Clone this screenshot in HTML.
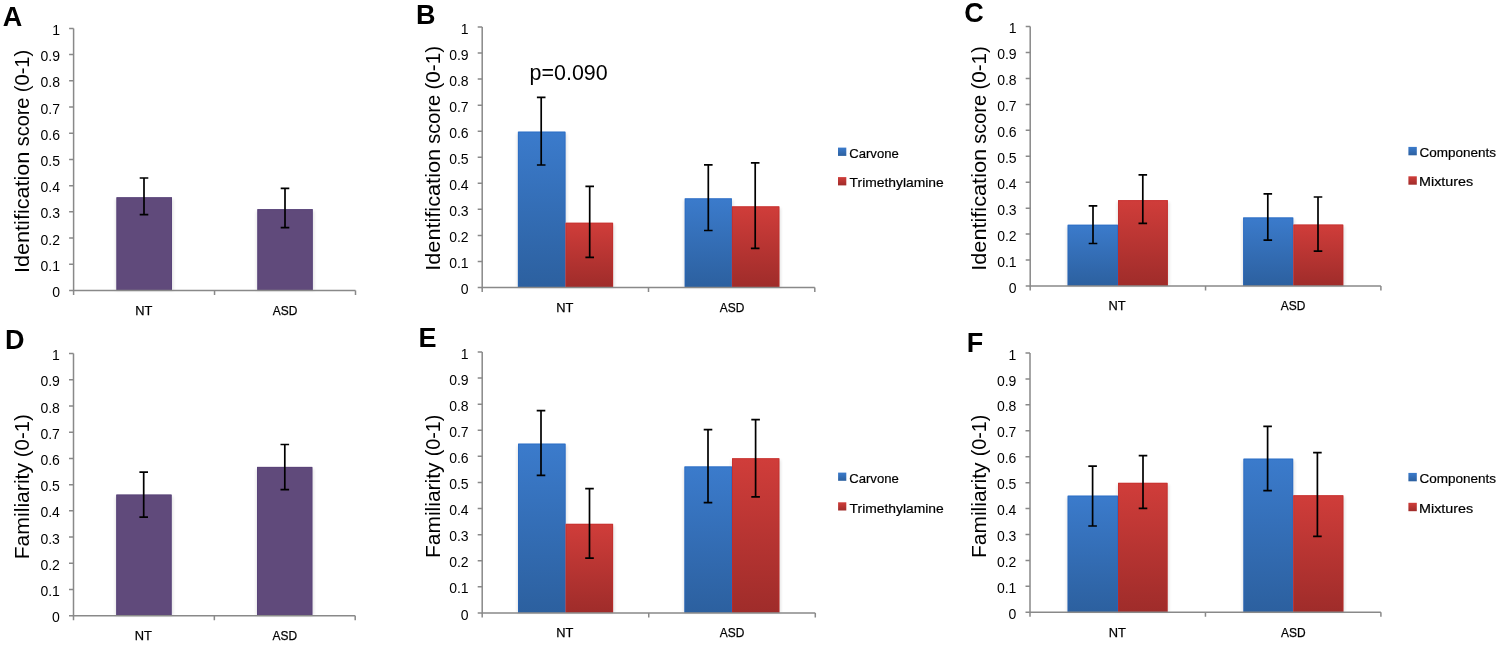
<!DOCTYPE html>
<html><head><meta charset="utf-8"><style>
html,body{margin:0;padding:0;background:#fff;}
svg{display:block;will-change:transform;}
text{font-family:"Liberation Sans", sans-serif;fill:#000;}
.t{font-size:14px;}
.c{font-size:13.4px;stroke:#000;stroke-width:0.25px;}
.yl{font-size:20.2px;}
.L{font-size:27px;font-weight:bold;}
.lg{font-size:13.5px;stroke:#000;stroke-width:0.2px;}
.pv{font-size:22.3px;}
</style></head><body>
<svg width="1500" height="645" viewBox="0 0 1500 645">
<defs>
<filter id="blur" x="-20%" y="-20%" width="140%" height="140%"><feGaussianBlur stdDeviation="1.6"/></filter>
<linearGradient id="gb" x1="0" y1="0" x2="0" y2="1"><stop offset="0" stop-color="#3b7bcc"/><stop offset="1" stop-color="#2c609f"/></linearGradient>
<linearGradient id="gr" x1="0" y1="0" x2="0" y2="1"><stop offset="0" stop-color="#d03d3a"/><stop offset="1" stop-color="#9f2c2a"/></linearGradient>
</defs>
<rect width="1500" height="645" fill="#fff"/>
<g><g fill="#000" opacity="0.10" filter="url(#blur)"><rect x="115.4" y="199.2" width="58.1" height="91.3"/><rect x="256.3" y="211.1" width="58" height="79.4"/></g><rect x="116.4" y="197.2" width="55.6" height="93.3" fill="#604a7b"/><path d="M116.9 290.5V197.7H171.5V290.5" fill="none" stroke="#54407a" stroke-opacity="0.55" stroke-width="1"/><rect x="257.3" y="209.1" width="55.5" height="81.4" fill="#604a7b"/><path d="M257.8 290.5V209.6H312.3V290.5" fill="none" stroke="#54407a" stroke-opacity="0.55" stroke-width="1"/><path d="M73.6 28.4V290.5H355.5" fill="none" stroke="#898989" stroke-width="1.5"/><path d="M69.1 290.5H73.6 M69.1 264.29H73.6 M69.1 238.08H73.6 M69.1 211.87H73.6 M69.1 185.66H73.6 M69.1 159.45H73.6 M69.1 133.24H73.6 M69.1 107.03H73.6 M69.1 80.82H73.6 M69.1 54.61H73.6 M69.1 28.4H73.6 M73.6 290.5V295 M214.55 290.5V295 M355.5 290.5V295" fill="none" stroke="#898989" stroke-width="1.5"/><text class="t" x="60" y="297.1" text-anchor="end">0</text><text class="t" x="60" y="270.89" text-anchor="end">0.1</text><text class="t" x="60" y="244.68" text-anchor="end">0.2</text><text class="t" x="60" y="218.47" text-anchor="end">0.3</text><text class="t" x="60" y="192.26" text-anchor="end">0.4</text><text class="t" x="60" y="166.05" text-anchor="end">0.5</text><text class="t" x="60" y="139.84" text-anchor="end">0.6</text><text class="t" x="60" y="113.63" text-anchor="end">0.7</text><text class="t" x="60" y="87.42" text-anchor="end">0.8</text><text class="t" x="60" y="61.21" text-anchor="end">0.9</text><text class="t" x="60" y="35" text-anchor="end">1</text><path d="M144 178V214.6M139.7 178H148.3M139.7 214.6H148.3" stroke="#000" stroke-width="1.7" fill="none"/><path d="M285 188.3V227.6M280.7 188.3H289.3M280.7 227.6H289.3" stroke="#000" stroke-width="1.7" fill="none"/><text class="c" x="135.24" y="314.5" textLength="17.15" lengthAdjust="spacingAndGlyphs">NT</text><text class="c" x="272.78" y="314.5" textLength="24.6" lengthAdjust="spacingAndGlyphs">ASD</text><g transform="translate(28.6 0) rotate(-90)"><text class="yl" x="-273" y="0" textLength="121.4" lengthAdjust="spacingAndGlyphs">Identification</text><text class="yl" x="-146.25" y="0" textLength="48.64" lengthAdjust="spacingAndGlyphs">score</text><text class="yl" x="-92.25" y="0" textLength="42.5" lengthAdjust="spacingAndGlyphs">(0-1)</text></g><text class="L" x="2.8" y="25.9">A</text></g>
<g><g fill="#000" opacity="0.10" filter="url(#blur)"><rect x="516.9" y="133.6" width="50.1" height="153.9"/><rect x="564.5" y="224.7" width="50.1" height="62.8"/><rect x="683.7" y="200.3" width="49.7" height="87.2"/><rect x="730.9" y="208.3" width="50" height="79.2"/></g><rect x="517.9" y="131.6" width="47.6" height="155.9" fill="url(#gb)"/><path d="M518.4 287.5V132.1H565V287.5" fill="none" stroke="#2466c2" stroke-opacity="0.55" stroke-width="1"/><rect x="565.5" y="222.7" width="47.6" height="64.8" fill="url(#gr)"/><path d="M566 287.5V223.2H612.6V287.5" fill="none" stroke="#c22a28" stroke-opacity="0.55" stroke-width="1"/><rect x="684.7" y="198.3" width="47.2" height="89.2" fill="url(#gb)"/><path d="M685.2 287.5V198.8H731.4V287.5" fill="none" stroke="#2466c2" stroke-opacity="0.55" stroke-width="1"/><rect x="731.9" y="206.3" width="47.5" height="81.2" fill="url(#gr)"/><path d="M732.4 287.5V206.8H778.9V287.5" fill="none" stroke="#c22a28" stroke-opacity="0.55" stroke-width="1"/><path d="M482.2 27V287.5H814.8" fill="none" stroke="#898989" stroke-width="1.5"/><path d="M477.7 287.5H482.2 M477.7 261.45H482.2 M477.7 235.4H482.2 M477.7 209.35H482.2 M477.7 183.3H482.2 M477.7 157.25H482.2 M477.7 131.2H482.2 M477.7 105.15H482.2 M477.7 79.1H482.2 M477.7 53.05H482.2 M477.7 27H482.2 M482.2 287.5V292 M648.5 287.5V292 M814.8 287.5V292" fill="none" stroke="#898989" stroke-width="1.5"/><text class="t" x="468.6" y="294.1" text-anchor="end">0</text><text class="t" x="468.6" y="268.05" text-anchor="end">0.1</text><text class="t" x="468.6" y="242" text-anchor="end">0.2</text><text class="t" x="468.6" y="215.95" text-anchor="end">0.3</text><text class="t" x="468.6" y="189.9" text-anchor="end">0.4</text><text class="t" x="468.6" y="163.85" text-anchor="end">0.5</text><text class="t" x="468.6" y="137.8" text-anchor="end">0.6</text><text class="t" x="468.6" y="111.75" text-anchor="end">0.7</text><text class="t" x="468.6" y="85.7" text-anchor="end">0.8</text><text class="t" x="468.6" y="59.65" text-anchor="end">0.9</text><text class="t" x="468.6" y="33.6" text-anchor="end">1</text><path d="M541.2 97.4V165M536.9 97.4H545.5M536.9 165H545.5" stroke="#000" stroke-width="1.7" fill="none"/><path d="M589.7 186.4V257.3M585.4 186.4H594M585.4 257.3H594" stroke="#000" stroke-width="1.7" fill="none"/><path d="M708.3 164.8V230.5M704 164.8H712.6M704 230.5H712.6" stroke="#000" stroke-width="1.7" fill="none"/><path d="M755.2 162.9V248.4M750.9 162.9H759.5M750.9 248.4H759.5" stroke="#000" stroke-width="1.7" fill="none"/><text class="c" x="556.34" y="311.8" textLength="17.15" lengthAdjust="spacingAndGlyphs">NT</text><text class="c" x="719.78" y="311.8" textLength="24.6" lengthAdjust="spacingAndGlyphs">ASD</text><g transform="translate(440.1 0) rotate(-90)"><text class="yl" x="-270.8" y="0" textLength="121.91" lengthAdjust="spacingAndGlyphs">Identification</text><text class="yl" x="-143.86" y="0" textLength="49.05" lengthAdjust="spacingAndGlyphs">score</text><text class="yl" x="-89.58" y="0" textLength="43.66" lengthAdjust="spacingAndGlyphs">(0-1)</text></g><text class="L" x="415.9" y="23.5">B</text><rect x="838" y="147.6" width="8.3" height="8.3" fill="url(#gb)"/><text class="lg" x="849.23" y="157.6" textLength="49.55" lengthAdjust="spacingAndGlyphs">Carvone</text><rect x="838" y="177.1" width="8.3" height="8.3" fill="url(#gr)"/><text class="lg" x="849.59" y="187.3" textLength="94.22" lengthAdjust="spacingAndGlyphs">Trimethylamine</text></g>
<g><g fill="#000" opacity="0.10" filter="url(#blur)"><rect x="1066.6" y="226.7" width="52.9" height="59.3"/><rect x="1117" y="202.1" width="52.4" height="83.9"/><rect x="1242.1" y="219.4" width="52.7" height="66.6"/><rect x="1292.3" y="226.5" width="52.5" height="59.5"/></g><rect x="1067.6" y="224.7" width="50.4" height="61.3" fill="url(#gb)"/><path d="M1068.1 286V225.2H1117.5V286" fill="none" stroke="#2466c2" stroke-opacity="0.55" stroke-width="1"/><rect x="1118" y="200.1" width="49.9" height="85.9" fill="url(#gr)"/><path d="M1118.5 286V200.6H1167.4V286" fill="none" stroke="#c22a28" stroke-opacity="0.55" stroke-width="1"/><rect x="1243.1" y="217.4" width="50.2" height="68.6" fill="url(#gb)"/><path d="M1243.6 286V217.9H1292.8V286" fill="none" stroke="#2466c2" stroke-opacity="0.55" stroke-width="1"/><rect x="1293.3" y="224.5" width="50" height="61.5" fill="url(#gr)"/><path d="M1293.8 286V225H1342.8V286" fill="none" stroke="#c22a28" stroke-opacity="0.55" stroke-width="1"/><path d="M1030.2 26.6V286H1380.9" fill="none" stroke="#898989" stroke-width="1.5"/><path d="M1025.7 286H1030.2 M1025.7 260.06H1030.2 M1025.7 234.12H1030.2 M1025.7 208.18H1030.2 M1025.7 182.24H1030.2 M1025.7 156.3H1030.2 M1025.7 130.36H1030.2 M1025.7 104.42H1030.2 M1025.7 78.48H1030.2 M1025.7 52.54H1030.2 M1025.7 26.6H1030.2 M1030.2 286V290.5 M1205.55 286V290.5 M1380.9 286V290.5" fill="none" stroke="#898989" stroke-width="1.5"/><text class="t" x="1016.6" y="292.6" text-anchor="end">0</text><text class="t" x="1016.6" y="266.66" text-anchor="end">0.1</text><text class="t" x="1016.6" y="240.72" text-anchor="end">0.2</text><text class="t" x="1016.6" y="214.78" text-anchor="end">0.3</text><text class="t" x="1016.6" y="188.84" text-anchor="end">0.4</text><text class="t" x="1016.6" y="162.9" text-anchor="end">0.5</text><text class="t" x="1016.6" y="136.96" text-anchor="end">0.6</text><text class="t" x="1016.6" y="111.02" text-anchor="end">0.7</text><text class="t" x="1016.6" y="85.08" text-anchor="end">0.8</text><text class="t" x="1016.6" y="59.14" text-anchor="end">0.9</text><text class="t" x="1016.6" y="33.2" text-anchor="end">1</text><path d="M1093 205.8V243.5M1088.7 205.8H1097.3M1088.7 243.5H1097.3" stroke="#000" stroke-width="1.7" fill="none"/><path d="M1142.8 174.8V223.3M1138.5 174.8H1147.1M1138.5 223.3H1147.1" stroke="#000" stroke-width="1.7" fill="none"/><path d="M1267.8 193.9V240.1M1263.5 193.9H1272.1M1263.5 240.1H1272.1" stroke="#000" stroke-width="1.7" fill="none"/><path d="M1318 197V251.2M1313.7 197H1322.3M1313.7 251.2H1322.3" stroke="#000" stroke-width="1.7" fill="none"/><text class="c" x="1108.44" y="310.3" textLength="17.15" lengthAdjust="spacingAndGlyphs">NT</text><text class="c" x="1280.78" y="310.3" textLength="24.6" lengthAdjust="spacingAndGlyphs">ASD</text><g transform="translate(986 0) rotate(-90)"><text class="yl" x="-270.8" y="0" textLength="121.91" lengthAdjust="spacingAndGlyphs">Identification</text><text class="yl" x="-143.86" y="0" textLength="49.05" lengthAdjust="spacingAndGlyphs">score</text><text class="yl" x="-89.58" y="0" textLength="43.45" lengthAdjust="spacingAndGlyphs">(0-1)</text></g><text class="L" x="964.3" y="22.3">C</text><rect x="1408.4" y="146.9" width="8.4" height="8.4" fill="url(#gb)"/><text class="lg" x="1419.51" y="156.9" textLength="76.57" lengthAdjust="spacingAndGlyphs">Components</text><rect x="1408.4" y="176.3" width="8.4" height="8.4" fill="url(#gr)"/><text class="lg" x="1419.02" y="186.4" textLength="54.19" lengthAdjust="spacingAndGlyphs">Mixtures</text></g>
<g><g fill="#000" opacity="0.10" filter="url(#blur)"><rect x="115.2" y="496.5" width="58" height="119.2"/><rect x="256" y="468.9" width="57.9" height="146.8"/></g><rect x="116.2" y="494.5" width="55.5" height="121.2" fill="#604a7b"/><path d="M116.7 615.7V495H171.2V615.7" fill="none" stroke="#54407a" stroke-opacity="0.55" stroke-width="1"/><rect x="257" y="466.9" width="55.4" height="148.8" fill="#604a7b"/><path d="M257.5 615.7V467.4H311.9V615.7" fill="none" stroke="#54407a" stroke-opacity="0.55" stroke-width="1"/><path d="M73.5 353.6V615.7H355.2" fill="none" stroke="#898989" stroke-width="1.5"/><path d="M69 615.7H73.5 M69 589.49H73.5 M69 563.28H73.5 M69 537.07H73.5 M69 510.86H73.5 M69 484.65H73.5 M69 458.44H73.5 M69 432.23H73.5 M69 406.02H73.5 M69 379.81H73.5 M69 353.6H73.5 M73.5 615.7V620.2 M214.35 615.7V620.2 M355.2 615.7V620.2" fill="none" stroke="#898989" stroke-width="1.5"/><text class="t" x="59.9" y="622.3" text-anchor="end">0</text><text class="t" x="59.9" y="596.09" text-anchor="end">0.1</text><text class="t" x="59.9" y="569.88" text-anchor="end">0.2</text><text class="t" x="59.9" y="543.67" text-anchor="end">0.3</text><text class="t" x="59.9" y="517.46" text-anchor="end">0.4</text><text class="t" x="59.9" y="491.25" text-anchor="end">0.5</text><text class="t" x="59.9" y="465.04" text-anchor="end">0.6</text><text class="t" x="59.9" y="438.83" text-anchor="end">0.7</text><text class="t" x="59.9" y="412.62" text-anchor="end">0.8</text><text class="t" x="59.9" y="386.41" text-anchor="end">0.9</text><text class="t" x="59.9" y="360.2" text-anchor="end">1</text><path d="M143.7 472.1V517.1M139.4 472.1H148M139.4 517.1H148" stroke="#000" stroke-width="1.7" fill="none"/><path d="M284.8 444.5V489.6M280.5 444.5H289.1M280.5 489.6H289.1" stroke="#000" stroke-width="1.7" fill="none"/><text class="c" x="134.84" y="640.4" textLength="17.15" lengthAdjust="spacingAndGlyphs">NT</text><text class="c" x="272.48" y="640.4" textLength="24.6" lengthAdjust="spacingAndGlyphs">ASD</text><g transform="translate(28.6 0) rotate(-90)"><text class="yl" x="-559.34" y="0" textLength="96.38" lengthAdjust="spacingAndGlyphs">Familiarity</text><text class="yl" x="-457.27" y="0" textLength="43.13" lengthAdjust="spacingAndGlyphs">(0-1)</text></g><text class="L" x="5" y="349.2">D</text></g>
<g><g fill="#000" opacity="0.10" filter="url(#blur)"><rect x="517" y="445.6" width="50.1" height="167.3"/><rect x="564.6" y="525.8" width="50" height="87.1"/><rect x="683.4" y="468.4" width="50.1" height="144.5"/><rect x="731" y="460.2" width="49.9" height="152.7"/></g><rect x="518" y="443.6" width="47.6" height="169.3" fill="url(#gb)"/><path d="M518.5 612.9V444.1H565.1V612.9" fill="none" stroke="#2466c2" stroke-opacity="0.55" stroke-width="1"/><rect x="565.6" y="523.8" width="47.5" height="89.1" fill="url(#gr)"/><path d="M566.1 612.9V524.3H612.6V612.9" fill="none" stroke="#c22a28" stroke-opacity="0.55" stroke-width="1"/><rect x="684.4" y="466.4" width="47.6" height="146.5" fill="url(#gb)"/><path d="M684.9 612.9V466.9H731.5V612.9" fill="none" stroke="#2466c2" stroke-opacity="0.55" stroke-width="1"/><rect x="732" y="458.2" width="47.4" height="154.7" fill="url(#gr)"/><path d="M732.5 612.9V458.7H778.9V612.9" fill="none" stroke="#c22a28" stroke-opacity="0.55" stroke-width="1"/><path d="M482.2 352V612.9H815.3" fill="none" stroke="#898989" stroke-width="1.5"/><path d="M477.7 612.9H482.2 M477.7 586.81H482.2 M477.7 560.72H482.2 M477.7 534.63H482.2 M477.7 508.54H482.2 M477.7 482.45H482.2 M477.7 456.36H482.2 M477.7 430.27H482.2 M477.7 404.18H482.2 M477.7 378.09H482.2 M477.7 352H482.2 M482.2 612.9V617.4 M648.75 612.9V617.4 M815.3 612.9V617.4" fill="none" stroke="#898989" stroke-width="1.5"/><text class="t" x="468.6" y="619.5" text-anchor="end">0</text><text class="t" x="468.6" y="593.41" text-anchor="end">0.1</text><text class="t" x="468.6" y="567.32" text-anchor="end">0.2</text><text class="t" x="468.6" y="541.23" text-anchor="end">0.3</text><text class="t" x="468.6" y="515.14" text-anchor="end">0.4</text><text class="t" x="468.6" y="489.05" text-anchor="end">0.5</text><text class="t" x="468.6" y="462.96" text-anchor="end">0.6</text><text class="t" x="468.6" y="436.87" text-anchor="end">0.7</text><text class="t" x="468.6" y="410.78" text-anchor="end">0.8</text><text class="t" x="468.6" y="384.69" text-anchor="end">0.9</text><text class="t" x="468.6" y="358.6" text-anchor="end">1</text><path d="M541 410.6V475.4M536.7 410.6H545.3M536.7 475.4H545.3" stroke="#000" stroke-width="1.7" fill="none"/><path d="M589.5 488.7V558.2M585.2 488.7H593.8M585.2 558.2H593.8" stroke="#000" stroke-width="1.7" fill="none"/><path d="M708 429.6V502.6M703.7 429.6H712.3M703.7 502.6H712.3" stroke="#000" stroke-width="1.7" fill="none"/><path d="M755.6 419.6V496.8M751.3 419.6H759.9M751.3 496.8H759.9" stroke="#000" stroke-width="1.7" fill="none"/><text class="c" x="556.34" y="636.7" textLength="17.15" lengthAdjust="spacingAndGlyphs">NT</text><text class="c" x="719.78" y="636.7" textLength="24.6" lengthAdjust="spacingAndGlyphs">ASD</text><g transform="translate(440 0) rotate(-90)"><text class="yl" x="-558.02" y="0" textLength="95.56" lengthAdjust="spacingAndGlyphs">Familiarity</text><text class="yl" x="-456.22" y="0" textLength="41.54" lengthAdjust="spacingAndGlyphs">(0-1)</text></g><text class="L" x="418.6" y="347">E</text><rect x="838.1" y="472.6" width="8.2" height="8.2" fill="url(#gb)"/><text class="lg" x="849.23" y="483.2" textLength="49.55" lengthAdjust="spacingAndGlyphs">Carvone</text><rect x="838.1" y="502.3" width="8.2" height="8.2" fill="url(#gr)"/><text class="lg" x="849.59" y="512.9" textLength="94.22" lengthAdjust="spacingAndGlyphs">Trimethylamine</text></g>
<g><g fill="#000" opacity="0.10" filter="url(#blur)"><rect x="1066.6" y="497.6" width="52.9" height="114.7"/><rect x="1117" y="484.8" width="52.1" height="127.5"/><rect x="1242.4" y="460.6" width="52.3" height="151.7"/><rect x="1292.2" y="497.2" width="52.7" height="115.1"/></g><rect x="1067.6" y="495.6" width="50.4" height="116.7" fill="url(#gb)"/><path d="M1068.1 612.3V496.1H1117.5V612.3" fill="none" stroke="#2466c2" stroke-opacity="0.55" stroke-width="1"/><rect x="1118" y="482.8" width="49.6" height="129.5" fill="url(#gr)"/><path d="M1118.5 612.3V483.3H1167.1V612.3" fill="none" stroke="#c22a28" stroke-opacity="0.55" stroke-width="1"/><rect x="1243.4" y="458.6" width="49.8" height="153.7" fill="url(#gb)"/><path d="M1243.9 612.3V459.1H1292.7V612.3" fill="none" stroke="#2466c2" stroke-opacity="0.55" stroke-width="1"/><rect x="1293.2" y="495.2" width="50.2" height="117.1" fill="url(#gr)"/><path d="M1293.7 612.3V495.7H1342.9V612.3" fill="none" stroke="#c22a28" stroke-opacity="0.55" stroke-width="1"/><path d="M1030 353V612.3H1380.9" fill="none" stroke="#898989" stroke-width="1.5"/><path d="M1025.5 612.3H1030 M1025.5 586.37H1030 M1025.5 560.44H1030 M1025.5 534.51H1030 M1025.5 508.58H1030 M1025.5 482.65H1030 M1025.5 456.72H1030 M1025.5 430.79H1030 M1025.5 404.86H1030 M1025.5 378.93H1030 M1025.5 353H1030 M1030 612.3V616.8 M1205.45 612.3V616.8 M1380.9 612.3V616.8" fill="none" stroke="#898989" stroke-width="1.5"/><text class="t" x="1016.4" y="618.9" text-anchor="end">0</text><text class="t" x="1016.4" y="592.97" text-anchor="end">0.1</text><text class="t" x="1016.4" y="567.04" text-anchor="end">0.2</text><text class="t" x="1016.4" y="541.11" text-anchor="end">0.3</text><text class="t" x="1016.4" y="515.18" text-anchor="end">0.4</text><text class="t" x="1016.4" y="489.25" text-anchor="end">0.5</text><text class="t" x="1016.4" y="463.32" text-anchor="end">0.6</text><text class="t" x="1016.4" y="437.39" text-anchor="end">0.7</text><text class="t" x="1016.4" y="411.46" text-anchor="end">0.8</text><text class="t" x="1016.4" y="385.53" text-anchor="end">0.9</text><text class="t" x="1016.4" y="359.6" text-anchor="end">1</text><path d="M1092.6 466.2V526M1088.3 466.2H1096.9M1088.3 526H1096.9" stroke="#000" stroke-width="1.7" fill="none"/><path d="M1143 455.6V508.4M1138.7 455.6H1147.3M1138.7 508.4H1147.3" stroke="#000" stroke-width="1.7" fill="none"/><path d="M1267.6 426.4V490.6M1263.3 426.4H1271.9M1263.3 490.6H1271.9" stroke="#000" stroke-width="1.7" fill="none"/><path d="M1317.4 452.6V536.4M1313.1 452.6H1321.7M1313.1 536.4H1321.7" stroke="#000" stroke-width="1.7" fill="none"/><text class="c" x="1108.74" y="636.7" textLength="17.15" lengthAdjust="spacingAndGlyphs">NT</text><text class="c" x="1280.98" y="636.7" textLength="24.6" lengthAdjust="spacingAndGlyphs">ASD</text><g transform="translate(986 0) rotate(-90)"><text class="yl" x="-558.12" y="0" textLength="95.66" lengthAdjust="spacingAndGlyphs">Familiarity</text><text class="yl" x="-456.22" y="0" textLength="41.54" lengthAdjust="spacingAndGlyphs">(0-1)</text></g><text class="L" x="966.7" y="351.7">F</text><rect x="1408.4" y="472.9" width="8.4" height="8.4" fill="url(#gb)"/><text class="lg" x="1419.51" y="483.2" textLength="76.57" lengthAdjust="spacingAndGlyphs">Components</text><rect x="1408.4" y="502.8" width="8.4" height="8.4" fill="url(#gr)"/><text class="lg" x="1419.02" y="512.8" textLength="54.19" lengthAdjust="spacingAndGlyphs">Mixtures</text></g>
<text class="pv" x="529.62" y="80.3" textLength="78.02" lengthAdjust="spacingAndGlyphs">p=0.090</text>
</svg>
</body></html>
